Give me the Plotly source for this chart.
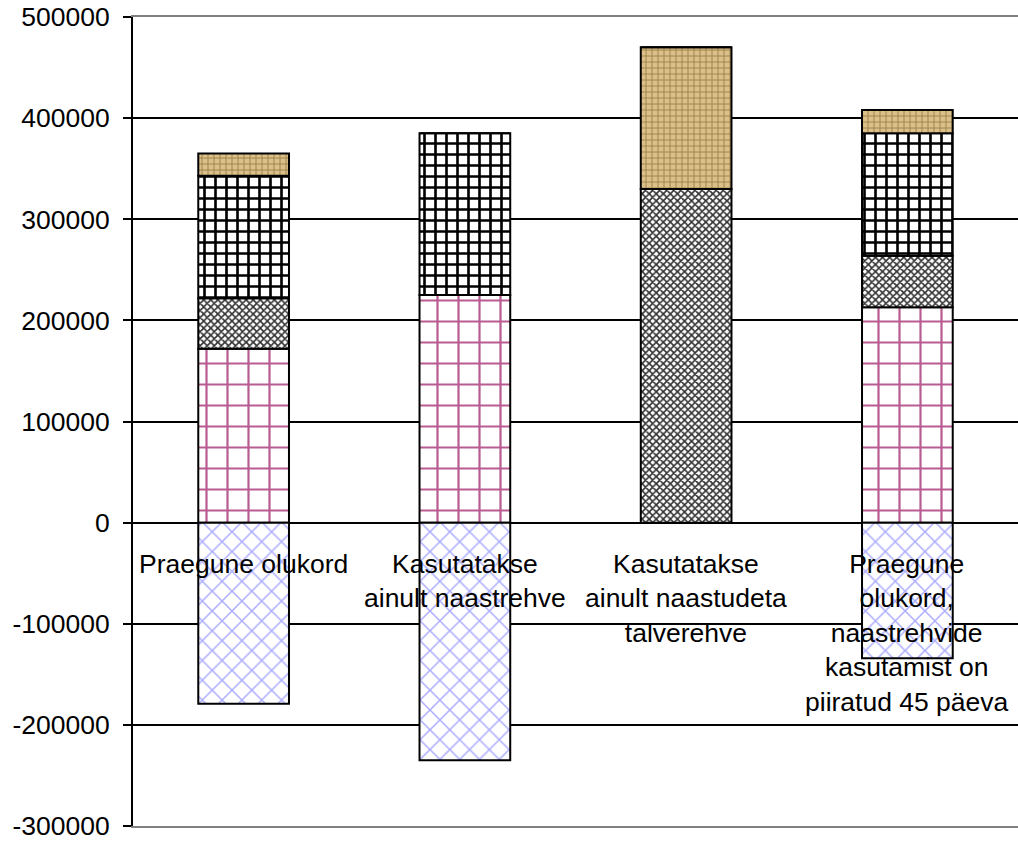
import plotly.graph_objects as go

# Scenario categories (x axis) and their wrapped labels
categories = ["Praegune olukord",
              "Kasutatakse ainult naastrehve",
              "Kasutatakse ainult naastudeta talverehve",
              "Praegune olukord, naastrehvide kasutamist on piiratud 45 päeva"]
category_labels = ["Praegune olukord",
                   "Kasutatakse<br>ainult naastrehve",
                   "Kasutatakse<br>ainult naastudeta<br>talverehve",
                   "Praegune<br>olukord,<br>naastrehvide<br>kasutamist on<br>piiratud 45 päeva"]

# Stacked components, bottom to top (positive), plus the negative component
grid_values = [172000, 225000, 0, 213000]
cross_values = [50000, 0, 330000, 51000]
brick_values = [121000, 160000, 0, 121000]
tan_values = [22000, 0, 140000, 23000]
negative_values = [-179000, -235000, 0, -134000]

y_ticks = [500000, 400000, 300000, 200000, 100000, 0, -100000, -200000, -300000]

styles = [
    (grid_values, dict(shape="+", fgcolor="#b85c92", bgcolor="white", size=21, solidity=0.2)),
    (cross_values, dict(shape="x", fgcolor="#333333", bgcolor="white", size=5, solidity=0.55)),
    (brick_values, dict(shape="+", fgcolor="#000000", bgcolor="white", size=11, solidity=0.42)),
    (tan_values, dict(shape="+", fgcolor="#a0824e", bgcolor="#dcc08a", size=6, solidity=0.3)),
    (negative_values, dict(shape="x", fgcolor="#ababff", bgcolor="white", size=14, solidity=0.2)),
]

fig = go.Figure()
for vals, pat in styles:
    fig.add_trace(go.Bar(
        x=categories, y=vals, width=0.41,
        marker=dict(color=pat["bgcolor"], pattern=dict(pat, fgopacity=1),
                    line=dict(color="black", width=2)),
        showlegend=False, hoverinfo="skip",
    ))

for cat, lab in zip(categories, category_labels):
    fig.add_annotation(x=cat, y=0, xref="x", yref="y", text=lab,
                       showarrow=False, yanchor="top", yshift=-24,
                       font=dict(family="Liberation Sans, Arial", size=26.5, color="black"))

fig.update_layout(
    barmode="relative",
    width=1018, height=841,
    margin=dict(l=133, r=0, t=17, b=15),
    paper_bgcolor="white", plot_bgcolor="white",
    font=dict(family="Liberation Sans, Arial", size=26.5, color="black"),
)
fig.update_xaxes(showticklabels=False, showgrid=False, zeroline=False,
                 showline=True, mirror=True, linecolor="#808080", linewidth=2,
                 ticks="")
fig.update_yaxes(range=[-300000, 500000], tickvals=y_ticks,
                 ticktext=[str(v) for v in y_ticks],
                 ticklabeloverflow="allow",
                 showgrid=True, gridcolor="black", gridwidth=1.5,
                 zeroline=True, zerolinecolor="black", zerolinewidth=1.5,
                 showline=True, linecolor="black", linewidth=2,
                 ticks="outside", ticklen=8, tickcolor="black", tickwidth=1.5,
                 ticklabelstandoff=8)

fig.write_html("out.html")
